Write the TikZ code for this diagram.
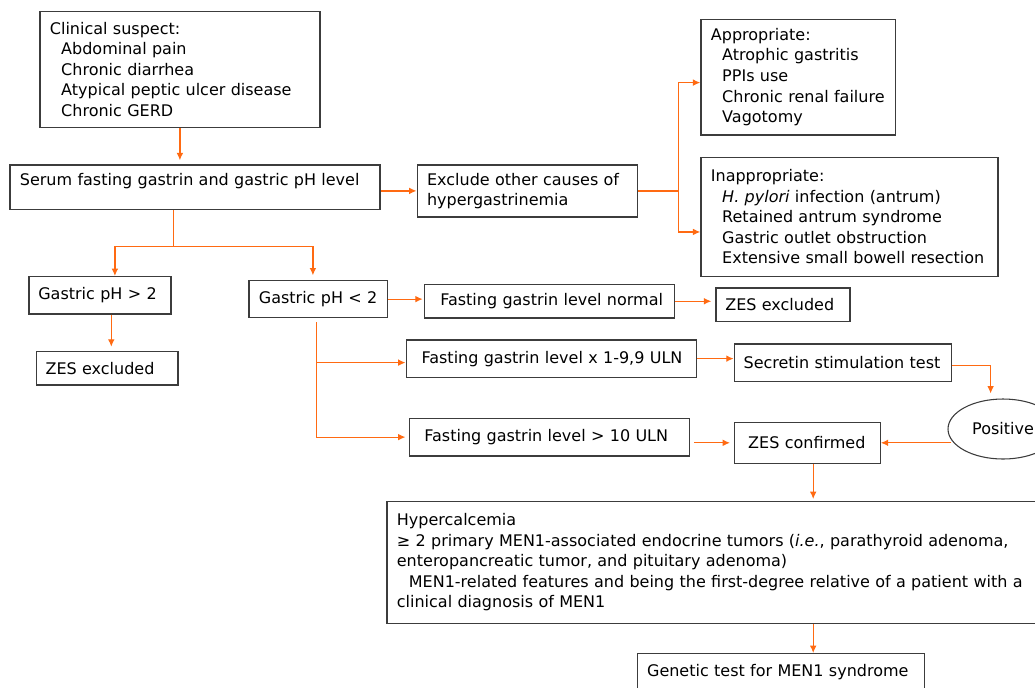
\documentclass[tikz,border=0pt]{standalone}
\usepackage{fontspec}
\setmainfont{DejaVu Sans}
\usetikzlibrary{calc, positioning, shapes.geometric, arrows.meta}
\definecolor{FlowOrange}{RGB}{255,106,18}
\definecolor{BoxGray}{RGB}{60,60,60}
\newcommand{\indt}{\hspace*{8.5pt}}

\begin{document}
\begin{tikzpicture}[x=0.75pt, y=-0.75pt,
    box/.style={draw=BoxGray, line width=0.9pt, rectangle, anchor=north west,
                align=left, inner xsep=0pt, inner ysep=0pt,
                font=\fontsize{12pt}{15.4pt}\selectfont},
    boxsize/.style n args={3}{text width=#1*0.75pt, minimum height=#2*0.75pt,
                execute at begin node={\pgfmathsetlength{\leftskip}{#3*0.75pt}}},
    conn/.style={draw=FlowOrange, line width=0.9pt},
    flow/.style={conn, -{Latex[length=5.5pt, width=5pt]}}]
            % Fixed frame, same size as the chart
            \path[use as bounding box] (0,0) rectangle (1035,687);
            \clip (0,0) rectangle (1035,687);

            % Clinical suspect and first work-up
            \node[box, boxsize={280}{115.7}{10}] (clin) at (39.3,11)
                {Clinical suspect:\\ \indt Abdominal pain\\ \indt Chronic diarrhea\\
                 \indt Atypical peptic ulcer disease\\ \indt Chronic GERD};
            \node[box, boxsize={370}{44.7}{10}, text depth=12pt] (serum) at (9.3,164.3)
                {Serum fasting gastrin and gastric pH level};

            % Other causes of hypergastrinemia
            \node[box, boxsize={220}{52}{10}] (excl) at (416.5,164.3)
                {Exclude other causes of\\hypergastrinemia};
            \node[box, boxsize={194.4}{115.6}{10}] (appr) at (700.3,18.7)
                {Appropriate:\\ \indt Atrophic gastritis\\ \indt PPIs use\\
                 \indt Chronic renal failure\\ \indt Vagotomy};
            \node[box, boxsize={297}{119.3}{10}] (inap) at (700.3,156.7)
                {Inappropriate:\\ \indt\textit{H. pylori} infection (antrum)\\
                 \indt Retained antrum syndrome\\ \indt Gastric outlet obstruction\\
                 \indt Extensive small bowell resection};

            % Gastric pH branches
            \node[box, boxsize={142}{37.3}{9.4}] (gt2) at (28.3,276) {Gastric pH > 2};
            \node[box, boxsize={141.6}{33.6}{9.3}] (zesx1) at (35.7,350.7) {ZES excluded};
            \node[box, boxsize={138.4}{37}{10}] (lt2) at (248.3,280) {Gastric pH < 2};

            % Fasting gastrin levels
            \node[box, boxsize={250}{33.3}{15.7}] (fnorm) at (424,284) {Fasting gastrin level normal};
            \node[box, boxsize={134}{33.7}{9.4}] (zesx2) at (715.3,287.3) {ZES excluded};
            \node[box, boxsize={290.5}{37.4}{15.5}] (mid) at (405.5,339.3) {Fasting gastrin level x 1-9,9 ULN};
            \node[box, boxsize={217}{37.4}{9.4}] (secr) at (733.6,343.3) {Secretin stimulation test};
            \node[box, boxsize={280}{37.6}{15}] (low) at (408.8,417.7) {Fasting gastrin level > 10 ULN};
            \node[box, boxsize={146}{41}{14}] (zesc) at (733.6,421.7) {ZES confirmed};
            \node[ellipse, draw=BoxGray, line width=0.8pt, minimum width=110*0.75pt,
                  minimum height=60*0.75pt, inner sep=0pt,
                  font=\fontsize{12pt}{15.4pt}\selectfont] (positive) at (1003,429) {Positive};

            % MEN1 criteria and genetic test
            \node[box, boxsize={680}{121.7}{10}] (hyp) at (386.3,501)
                {Hypercalcemia\\
                 ≥ 2 primary MEN1-associated endocrine tumors (\textit{i.e.}, parathyroid adenoma,\\
                 enteropancreatic tumor, and pituitary adenoma)\\
                 \hspace*{9pt}MEN1-related features and being the first-degree relative of a patient with a\\
                 clinical diagnosis of MEN1};
            \node[box, boxsize={287.4}{36}{10}] (gen) at (636.5,653) {Genetic test for MEN1 syndrome};

            % Junction points
            \coordinate (exjoin) at ($(excl.east)+(41,0)$);
            \coordinate (phsplit) at (173.7,246.3);
            \coordinate (gtout) at ($(gt2.south)+(11.4,0)$);
            \coordinate (lttrunk) at ($(lt2.south)+(-1.5,4)$);
            \coordinate (posout) at ($(positive.west)+(4,0)$);
            \coordinate (mainx) at ($(zesc.south)+(6,0)$);

            % Connections
            \draw[flow, shorten >=3pt] (clin.south) -- (clin.south |- serum.north);
            \draw[flow] (serum.east |- excl.west) -- (excl.west);
            \draw[conn] (excl.east) -- (exjoin);
            \draw[flow] (exjoin) |- ($(appr.west)+(0,5.5)$);
            \draw[flow] (exjoin) |- ($(inap.west)+(0,15)$);
            \draw[conn] (phsplit |- serum.south) -- (phsplit);
            \draw[flow] (phsplit) -| ($(gt2.north)+(15,0)$);
            \draw[flow, shorten >=3.5pt] (phsplit) -| ($(lt2.north)+(-5.2,0)$);
            \draw[flow, shorten >=3pt] (gtout) -- (gtout |- zesx1.north);
            \draw[flow, shorten >=1pt] (lt2.east) -- (lt2.east -| fnorm.west);
            \draw[flow, shorten >=3pt] (fnorm.east) -- (fnorm.east -| zesx2.west);
            \draw[flow] (lttrunk) |- ($(mid.west)+(0,4)$);
            \draw[flow, shorten >=2.5pt] (lttrunk) |- (low.west);
            \draw[flow] (mid.east) -- (mid.east -| secr.west);
            \draw[flow, shorten >=3.75pt] ($(secr.east)+(0,3)$) -| ($(positive.north)+(-12.4,0)$);
            \draw[flow, shorten <=3pt, shorten >=2.7pt] (low.east |- zesc.west) -- (zesc.west);
            \draw[flow] (posout |- zesc.east) -- (zesc.east);
            \draw[flow, shorten >=1.5pt] (mainx) -- (mainx |- hyp.north);
            \draw[flow] (mainx |- hyp.south) -- (mainx |- gen.north);
        \end{tikzpicture}
\end{document}
